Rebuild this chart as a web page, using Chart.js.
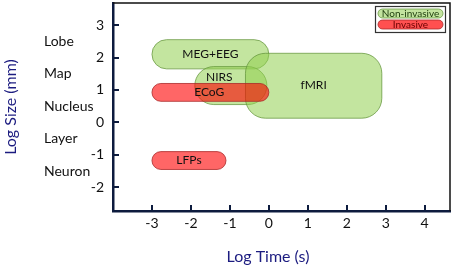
<!DOCTYPE html>
<html><head><meta charset="utf-8">
<script src="https://cdn.jsdelivr.net/npm/chart.js@4"></script>
<style>html,body{margin:0;padding:0;background:#fff}#wrap{width:454px;height:267px}</style>
</head><body><div id="wrap"><canvas id="c" width="454" height="267"></canvas></div>
<script>
const categories = ['MEG+EEG','NIRS','fMRI','ECoG','LFPs'];
const kinds      = ['Non-invasive','Non-invasive','Non-invasive','Invasive','Invasive'];
const timeMin    = [-3.0, -1.9, -0.6, -3.0, -3.0];
const timeMax    = [ 0.0, -0.05, 2.9,  0.0, -1.1];
const sizeMin    = [ 1.65, 0.55, 0.13, 0.65, -1.45];
const sizeMax    = [ 2.55, 1.72, 2.13, 1.2, -0.9];
const labelTime  = [-1.5, -1.27, 1.15, -1.53, -2.05];
const labelSize  = [ 2.1,  1.4,  1.15, 0.92, -1.17];
const xTicks = [-3,-2,-1,0,1,2,3,4];
const yTicks = [-2,-1,0,1,2,3];
const scaleNames = ['Lobe','Map','Nucleus','Layer','Neuron'];
const scaleNamePos = [2.5,1.5,0.5,-0.5,-1.5];
const legendItems = ['Non-invasive','Invasive'];

const FONT = 'Lato, "Open Sans", sans-serif';
const NAVY = '#1c1c80';
const AXIS = '#0d1b3e';
const style = {
  'Non-invasive': {fill:'rgba(146,208,80,0.55)', stroke:'rgba(100,150,60,0.75)'},
  'Invasive': {fill:'rgba(255,0,0,0.6)', stroke:'rgba(170,40,40,0.8)'}
};

function rr(ctx,x,y,w,h,r){
  r=Math.min(r,h/2,w/2);
  ctx.beginPath();
  ctx.moveTo(x+r,y);ctx.lineTo(x+w-r,y);ctx.arcTo(x+w,y,x+w,y+r,r);
  ctx.lineTo(x+w,y+h-r);ctx.arcTo(x+w,y+h,x+w-r,y+h,r);
  ctx.lineTo(x+r,y+h);ctx.arcTo(x,y+h,x,y+h-r,r);
  ctx.lineTo(x,y+r);ctx.arcTo(x,y,x+r,y,r);ctx.closePath();
}

const boxes = {
  id:'boxes',
  beforeDatasetsDraw(chart){
    const {ctx, scales:{x,y}, chartArea:a} = chart;
    ctx.save();
    ctx.strokeStyle='#111';ctx.lineWidth=1.5;
    ctx.beginPath();ctx.moveTo(a.left,a.top);ctx.lineTo(a.right,a.top);ctx.lineTo(a.right,a.bottom);ctx.stroke();
    ctx.strokeStyle=AXIS;ctx.lineWidth=2;
    xTicks.forEach(v=>{const px=Math.round(x.getPixelForValue(v));ctx.beginPath();ctx.moveTo(px,a.bottom);ctx.lineTo(px,a.bottom-6);ctx.stroke();});
    yTicks.forEach(v=>{const py=Math.round(y.getPixelForValue(v));ctx.beginPath();ctx.moveTo(a.left,py);ctx.lineTo(a.left+6,py);ctx.stroke();});
    const order=[];
    kinds.forEach((k,i)=>{if(k==='Non-invasive')order.push(i);});
    kinds.forEach((k,i)=>{if(k==='Invasive')order.push(i);});
    order.forEach(i=>{
      const x0=x.getPixelForValue(timeMin[i]), x1=x.getPixelForValue(timeMax[i]);
      const y0=y.getPixelForValue(sizeMax[i]), y1=y.getPixelForValue(sizeMin[i]);
      const s=style[kinds[i]];
      rr(ctx,x0,y0,x1-x0,y1-y0,20);
      ctx.fillStyle=s.fill;ctx.fill();
      ctx.strokeStyle=s.stroke;ctx.lineWidth=1;ctx.stroke();
    });
    ctx.fillStyle='#111';ctx.font='12px '+FONT;ctx.textAlign='center';ctx.textBaseline='middle';
    categories.forEach((c,i)=>{
      ctx.fillText(c,x.getPixelForValue(labelTime[i]),y.getPixelForValue(labelSize[i]));
    });
    ctx.textAlign='left';ctx.font='14px '+FONT;
    scaleNames.forEach((n,i)=>ctx.fillText(n,44,y.getPixelForValue(scaleNamePos[i])));
    ctx.strokeStyle='#333';ctx.lineWidth=1.2;ctx.strokeRect(375.5,6.5,70,26);
    ctx.font='10px '+FONT;ctx.textAlign='center';
    legendItems.forEach((k,i)=>{
      const s=style[k];const yy=9+i*11;
      rr(ctx,378,yy,65,9,4.5);
      ctx.fillStyle=k==='Invasive'?'rgba(255,80,80,1)':'rgba(195,228,159,1)';ctx.fill();
      ctx.strokeStyle=s.stroke;ctx.lineWidth=1;ctx.stroke();
      ctx.fillStyle=k==='Invasive'?'#6a0000':'#1a3a0a';
      ctx.fillText(k,410.5,yy+4.8);
    });
    ctx.fillStyle=NAVY;ctx.font='16px '+FONT;ctx.textAlign='center';
    ctx.fillText('Log Time (s)',268,257);
    ctx.save();ctx.translate(11,107);ctx.rotate(-Math.PI/2);ctx.fillText('Log Size (mm)',0,0);ctx.restore();
    ctx.restore();
  }
};

new Chart(document.getElementById('c'),{
  type:'scatter',
  data:{datasets:[{data:[],pointRadius:0}]},
  options:{
    responsive:false,animation:false,
    layout:{padding:{top:3,right:4,left:0,bottom:0}},
    plugins:{legend:{display:false},tooltip:{enabled:false}},
    scales:{
      x:{type:'linear',min:-4,max:4.65,
        afterBuildTicks:s=>{s.ticks=xTicks.map(v=>({value:v}));},
        afterFit:s=>{s.height=56;s.paddingLeft=0;s.paddingRight=0;},
        grid:{display:true,drawOnChartArea:false,drawTicks:false},
        border:{color:AXIS,width:2.5},
        ticks:{padding:4,color:'#111',font:{family:FONT,size:14},maxRotation:0,autoSkip:false}},
      y:{type:'linear',min:-2.73,max:3.68,
        afterBuildTicks:s=>{s.ticks=yTicks.map(v=>({value:v}));},
        afterFit:s=>{s.width=113;s.paddingTop=0;s.paddingBottom=0;},
        grid:{display:true,drawOnChartArea:false,drawTicks:false},
        border:{color:AXIS,width:2.5},
        ticks:{padding:9,color:'#111',font:{family:FONT,size:14},autoSkip:false}}
    }
  },
  plugins:[boxes]
});
</script></body></html>
